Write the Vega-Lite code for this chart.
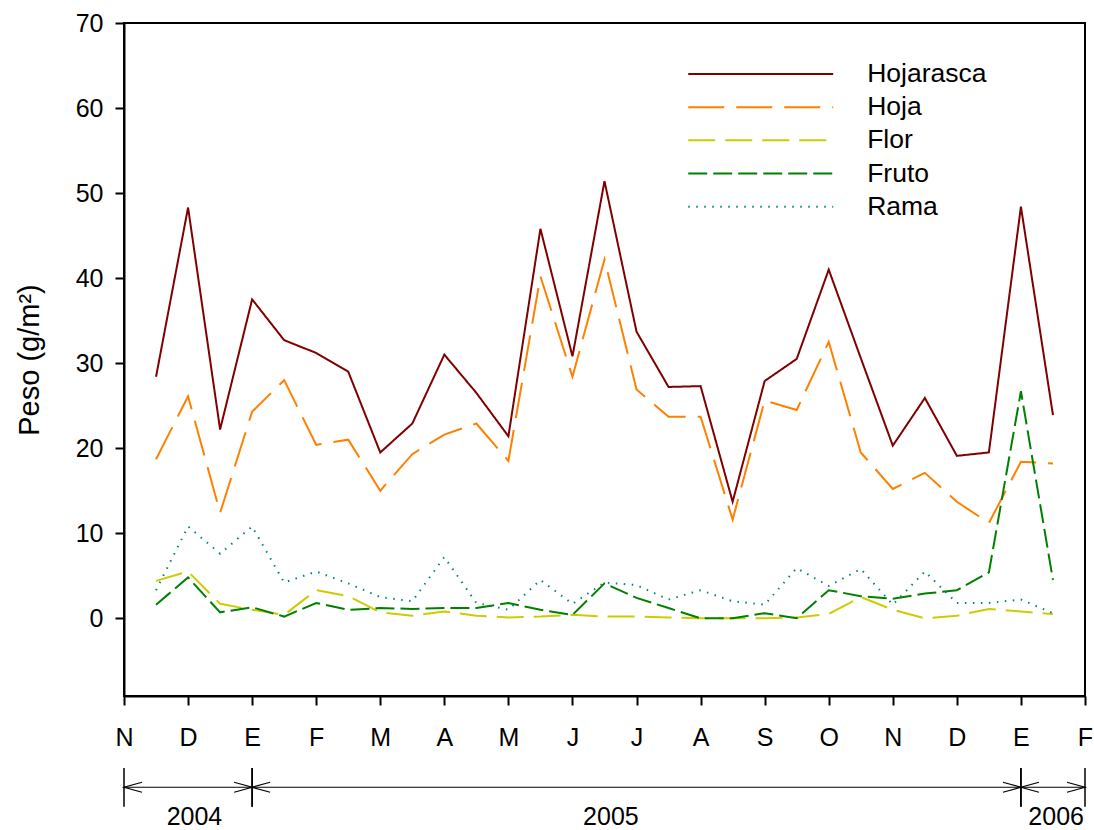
{
  "$schema": "https://vega.github.io/schema/vega-lite/v6.json",
  "autosize": {"type": "none"},
  "padding": {"left": 124, "top": 23, "right": 9, "bottom": 134},
  "width": 961,
  "height": 673,
  "background": "white",
  "config": {
    "view": {"stroke": "black", "strokeWidth": 2},
    "font": "Liberation Sans",
    "axis": {
      "domainColor": "black", "domainWidth": 2, "tickColor": "black", "tickWidth": 2,
      "labelColor": "black", "labelFont": "Liberation Sans", "titleColor": "black",
      "titleFont": "Liberation Sans", "grid": false
    }
  },
  "datasets": {
    "litter": [
      {"month": 0.5, "Hojarasca": 28.4, "Hoja": 18.7, "Flor": 4.4, "Fruto": 1.6, "Rama": 3.3},
      {"month": 1.0, "Hojarasca": 48.3, "Hoja": 26.1, "Flor": 5.5, "Fruto": 4.8, "Rama": 10.8},
      {"month": 1.5, "Hojarasca": 22.2, "Hoja": 12.4, "Flor": 1.7, "Fruto": 0.7, "Rama": 7.6},
      {"month": 2.0, "Hojarasca": 37.5, "Hoja": 24.3, "Flor": 1.0, "Fruto": 1.3, "Rama": 10.8},
      {"month": 2.5, "Hojarasca": 32.7, "Hoja": 28.0, "Flor": 0.4, "Fruto": 0.2, "Rama": 4.2},
      {"month": 3.0, "Hojarasca": 31.2, "Hoja": 20.4, "Flor": 3.3, "Fruto": 1.8, "Rama": 5.5},
      {"month": 3.5, "Hojarasca": 29.0, "Hoja": 21.0, "Flor": 2.6, "Fruto": 1.0, "Rama": 4.1},
      {"month": 4.0, "Hojarasca": 19.5, "Hoja": 15.0, "Flor": 0.7, "Fruto": 1.2, "Rama": 2.5},
      {"month": 4.5, "Hojarasca": 22.9, "Hoja": 19.3, "Flor": 0.3, "Fruto": 1.1, "Rama": 2.0},
      {"month": 5.0, "Hojarasca": 31.0, "Hoja": 21.6, "Flor": 0.8, "Fruto": 1.2, "Rama": 7.2},
      {"month": 5.5, "Hojarasca": 26.5, "Hoja": 22.9, "Flor": 0.3, "Fruto": 1.2, "Rama": 1.8},
      {"month": 6.0, "Hojarasca": 21.4, "Hoja": 18.5, "Flor": 0.1, "Fruto": 1.8, "Rama": 1.0},
      {"month": 6.5, "Hojarasca": 45.8, "Hoja": 40.2, "Flor": 0.2, "Fruto": 1.0, "Rama": 4.5},
      {"month": 7.0, "Hojarasca": 30.8, "Hoja": 28.4, "Flor": 0.4, "Fruto": 0.4, "Rama": 1.7},
      {"month": 7.5, "Hojarasca": 51.4, "Hoja": 42.2, "Flor": 0.2, "Fruto": 4.1, "Rama": 4.2},
      {"month": 8.0, "Hojarasca": 33.7, "Hoja": 26.9, "Flor": 0.2, "Fruto": 2.4, "Rama": 3.9},
      {"month": 8.5, "Hojarasca": 27.2, "Hoja": 23.7, "Flor": 0.1, "Fruto": 1.2, "Rama": 2.2},
      {"month": 9.0, "Hojarasca": 27.3, "Hoja": 23.7, "Flor": 0.0, "Fruto": 0.0, "Rama": 3.3},
      {"month": 9.5, "Hojarasca": 13.7, "Hoja": 11.6, "Flor": 0.0, "Fruto": 0.0, "Rama": 2.0},
      {"month": 10.0, "Hojarasca": 27.9, "Hoja": 25.6, "Flor": 0.0, "Fruto": 0.6, "Rama": 1.6},
      {"month": 10.5, "Hojarasca": 30.5, "Hoja": 24.5, "Flor": 0.1, "Fruto": 0.0, "Rama": 5.9},
      {"month": 11.0, "Hojarasca": 41.0, "Hoja": 32.5, "Flor": 0.5, "Fruto": 3.3, "Rama": 3.8},
      {"month": 11.5, "Hojarasca": 30.6, "Hoja": 19.5, "Flor": 2.5, "Fruto": 2.6, "Rama": 5.8},
      {"month": 12.0, "Hojarasca": 20.3, "Hoja": 15.2, "Flor": 1.0, "Fruto": 2.3, "Rama": 1.6},
      {"month": 12.5, "Hojarasca": 25.9, "Hoja": 17.1, "Flor": 0.0, "Fruto": 2.9, "Rama": 5.5},
      {"month": 13.0, "Hojarasca": 19.1, "Hoja": 13.7, "Flor": 0.3, "Fruto": 3.3, "Rama": 1.8},
      {"month": 13.5, "Hojarasca": 19.5, "Hoja": 11.2, "Flor": 1.1, "Fruto": 5.4, "Rama": 1.8},
      {"month": 14.0, "Hojarasca": 48.4, "Hoja": 18.4, "Flor": 0.8, "Fruto": 26.7, "Rama": 2.2},
      {"month": 14.5, "Hojarasca": 23.9, "Hoja": 18.2, "Flor": 0.5, "Fruto": 4.5, "Rama": 0.6}
    ],
    "years": [
      {"year": "2004", "start": 0, "end": 2, "label_month": 1.1},
      {"year": "2005", "start": 2, "end": 14, "label_month": 7.6},
      {"year": "2006", "start": 14, "end": 15, "label_month": 14.55}
    ],
    "series": [
      {"series": "Hojarasca"}, {"series": "Hoja"}, {"series": "Flor"}, {"series": "Fruto"}, {"series": "Rama"}
    ]
  },
  "resolve": {"scale": {"y": "independent"}},
  "layer": [
    {
      "layer": [
        {
          "data": {"name": "litter"},
          "transform": [{"fold": ["Hojarasca", "Hoja", "Flor", "Fruto", "Rama"], "as": ["series", "peso"]}],
          "mark": {"type": "line", "strokeWidth": 2, "clip": false},
          "encoding": {
            "x": {
              "field": "month", "type": "quantitative",
              "scale": {"domain": [0, 15], "nice": false, "zero": false},
              "axis": {
                "orient": "bottom", "values": [0,1,2,3,4,5,6,7,8,9,10,11,12,13,14,15],
                "labelExpr": "['N','D','E','F','M','A','M','J','J','A','S','O','N','D','E','F'][datum.value]",
                "tickSize": 9, "labelPadding": 20, "labelFontSize": 25, "labelFlush": false,
                "labelOverlap": false, "title": null
              }
            },
            "y": {
              "field": "peso", "type": "quantitative",
              "scale": {"domain": [-9.14, 70], "nice": false, "zero": false},
              "axis": {
                "orient": "left", "values": [0,10,20,30,40,50,60,70],
                "tickSize": 9, "labelPadding": 12, "labelFontSize": 25,
                "title": "Peso (g/m²)", "titleFontSize": 29, "titleFontWeight": "normal",
                "titlePadding": 31
              }
            },
            "color": {
              "field": "series", "type": "nominal", "legend": null,
              "scale": {"domain": ["Hojarasca", "Hoja", "Flor", "Fruto", "Rama"],
                        "range": ["#800000", "#FF8000", "#CCCC00", "#008000", "#008080"]}
            },
            "strokeDash": {
              "field": "series", "type": "nominal", "legend": null,
              "scale": {"domain": ["Hojarasca", "Hoja", "Flor", "Fruto", "Rama"],
                        "range": [[1, 0], [36, 12], [27, 10], [19, 6], [1.5, 6.5]]}
            }
          }
        },
        {
          "data": {"name": "years"},
          "mark": {"type": "rule", "color": "black", "strokeWidth": 1.5, "clip": false},
          "encoding": {
            "x": {"field": "start", "type": "quantitative"},
            "y": {"datum": -17.6},
            "y2": {"datum": -22.16}
          }
        },
        {
          "data": {"name": "years"},
          "mark": {"type": "rule", "color": "black", "strokeWidth": 1.5, "clip": false},
          "encoding": {
            "x": {"field": "end", "type": "quantitative"},
            "y": {"datum": -17.6},
            "y2": {"datum": -22.16}
          }
        },
        {
          "data": {"name": "years"},
          "mark": {"type": "rule", "color": "black", "strokeWidth": 1.2, "clip": false},
          "encoding": {
            "x": {"field": "start", "type": "quantitative"},
            "x2": {"field": "end"},
            "y": {"datum": -19.87}
          }
        },
        {
          "data": {"name": "years"},
          "mark": {"type": "point", "shape": "M1,-0.28L0,0L1,0.28", "filled": false, "color": "black", "strokeWidth": 1.2, "size": 1296, "opacity": 1, "clip": false},
          "encoding": {
            "x": {"field": "start", "type": "quantitative"},
            "y": {"datum": -19.87}
          }
        },
        {
          "data": {"name": "years"},
          "mark": {"type": "point", "shape": "M-1,-0.28L0,0L-1,0.28", "filled": false, "color": "black", "strokeWidth": 1.2, "size": 1296, "opacity": 1, "clip": false},
          "encoding": {
            "x": {"field": "end", "type": "quantitative"},
            "y": {"datum": -19.87}
          }
        },
        {
          "data": {"name": "years"},
          "mark": {"type": "text", "fontSize": 25, "color": "black", "align": "center", "baseline": "middle", "clip": false},
          "encoding": {
            "x": {"field": "label_month", "type": "quantitative"},
            "y": {"datum": -23.4},
            "text": {"field": "year"}
          }
        }
      ]
    },
    {
      "data": {"name": "series"},
      "layer": [
        {
          "mark": {"type": "rule", "strokeWidth": 2},
          "encoding": {
            "x": {"datum": 8.807},
            "x2": {"datum": 11.07},
            "y": {"field": "series", "type": "nominal",
                  "scale": {"type": "point", "domain": ["Hojarasca", "Hoja", "Flor", "Fruto", "Rama"], "range": [51, 183.7], "padding": 0},
                  "axis": null},
            "color": {
              "field": "series", "type": "nominal", "legend": null,
              "scale": {"domain": ["Hojarasca", "Hoja", "Flor", "Fruto", "Rama"],
                        "range": ["#800000", "#FF8000", "#CCCC00", "#008000", "#008080"]}
            },
            "strokeDash": {
              "field": "series", "type": "nominal", "legend": null,
              "scale": {"domain": ["Hojarasca", "Hoja", "Flor", "Fruto", "Rama"],
                        "range": [[1, 0], [36, 12], [27, 10], [19, 6], [1.5, 6.5]]}
            }
          }
        },
        {
          "mark": {"type": "text", "fontSize": 26.5, "color": "black", "align": "left", "baseline": "middle"},
          "encoding": {
            "x": {"datum": 11.6},
            "y": {"field": "series", "type": "nominal",
                  "scale": {"type": "point", "domain": ["Hojarasca", "Hoja", "Flor", "Fruto", "Rama"], "range": [51, 183.7], "padding": 0},
                  "axis": null},
            "text": {"field": "series"}
          }
        }
      ]
    }
  ]
}
